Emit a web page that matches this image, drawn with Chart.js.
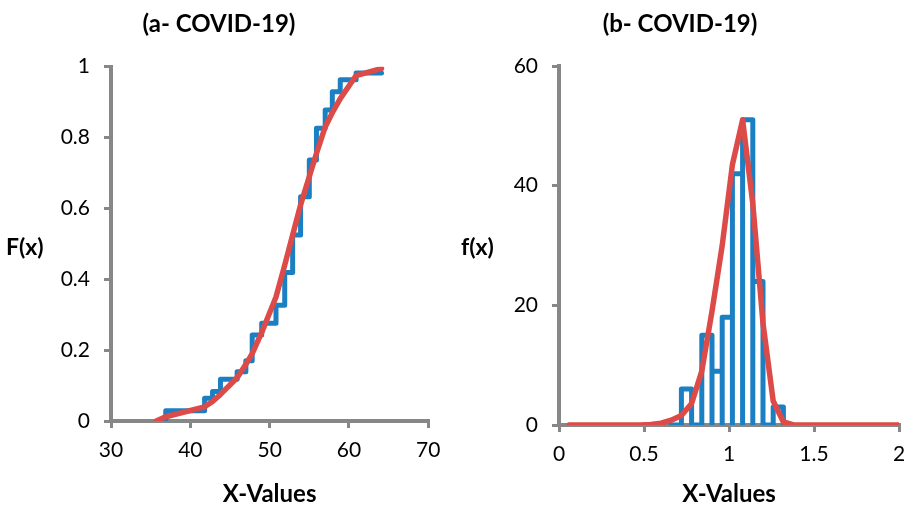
<!DOCTYPE html>
<html>
<head>
<meta charset="utf-8">
<title>COVID-19 distribution fit</title>
<script src="https://cdn.jsdelivr.net/npm/chart.js@4.4.1/dist/chart.umd.min.js"></script>
<style>
  html, body { margin: 0; padding: 0; background: #fff; }
  #wrap { position: relative; width: 907px; height: 506px; overflow: hidden; }
  canvas { position: absolute; top: 0; }
  #cdf { left: 0; }
  #pdf { left: 453px; }
</style>
</head>
<body>
<div id="wrap">
  <canvas id="cdf" width="448" height="506"></canvas>
  <canvas id="pdf" width="454" height="506"></canvas>
</div>
<script>
// ---------- (a) empirical CDF + fitted CDF ----------
const ecdfX = [36.9, 41.8, 42.8, 43.8, 45.9, 47.0, 47.8, 49.0, 50.8, 51.9, 52.9, 53.9, 55.0, 55.9, 57.0, 57.9, 58.9, 60.9, 64.1];
const ecdfY = [0.029, 0.064, 0.083, 0.118, 0.139, 0.170, 0.243, 0.276, 0.327, 0.419, 0.525, 0.633, 0.737, 0.826, 0.878, 0.929, 0.963, 0.982, 0.982];

const cdfFitX = [35.7, 36.9, 41.8, 42.8, 43.8, 45.9, 47.0, 47.8, 49.0, 50.8, 51.9, 52.9, 53.9, 55.0, 55.9, 57.0, 57.9, 58.9, 60.9, 64.1];
const cdfFitY = [0.0, 0.012, 0.040, 0.055, 0.075, 0.122, 0.160, 0.190, 0.250, 0.350, 0.440, 0.525, 0.610, 0.690, 0.755, 0.830, 0.870, 0.910, 0.975, 0.995];

// ---------- (b) histogram + fitted density ----------
const binEdges = [0.66, 0.72, 0.78, 0.84, 0.90, 0.96, 1.02, 1.08, 1.14, 1.20, 1.26, 1.32];
const binCounts = [0, 6, 0, 15, 9, 18, 42, 51, 24, 0, 3];

const pdfFitX = [0.06, 0.48, 0.54, 0.60, 0.66, 0.72, 0.78, 0.84, 0.90, 0.96, 1.02, 1.08, 1.14, 1.20, 1.26, 1.32, 1.38, 2.0];
const pdfFitY = [0, 0, 0.1, 0.3, 0.8, 1.6, 3.6, 9.0, 19.0, 30.0, 43.5, 51.0, 37.0, 17.0, 4.0, 0.5, 0, 0];

const BLUE = "#1b7fc4";
const RED = "#dc4b48";
const AXIS_GREY = "#878787";
const FONT = "Lato, 'Open Sans', sans-serif";

const toPoints = (xs, ys) => xs.map((x, i) => ({ x: x, y: ys[i] }));

// each bin as up - across - down, back to zero at every edge
function histogramPoints(edges, counts) {
  const pts = [];
  counts.forEach((h, i) => {
    pts.push({ x: edges[i], y: 0 }, { x: edges[i], y: h }, { x: edges[i + 1], y: h }, { x: edges[i + 1], y: 0 });
  });
  return pts;
}

// titles and axis names drawn straight on the canvas
const panelText = {
  id: "panelText",
  afterDraw(chart, args, opts) {
    const ctx = chart.ctx;
    const area = chart.chartArea;
    ctx.save();
    ctx.fillStyle = "#000";
    ctx.textBaseline = "alphabetic";

    ctx.font = "bold 24px " + FONT;
    ctx.textAlign = "center";
    ctx.fillText(opts.title, opts.titleX, 32);

    ctx.fillText("X-Values", (area.left + area.right) / 2, 502);

    ctx.font = "bold 23px " + FONT;
    ctx.textAlign = "left";
    ctx.fillText(opts.yLabel, opts.yLabelX, 255);
    ctx.restore();
  }
};

function linearAxis(min, max, step, pad, fitSize, isX) {
  return {
    type: "linear",
    min: min,
    max: max,
    ticks: {
      stepSize: step,
      color: "#000",
      padding: pad,
      font: { family: FONT, size: 21 },
      callback: (v) => String(Math.round(v * 100) / 100)
    },
    grid: {
      drawOnChartArea: false,
      drawTicks: true,
      tickLength: 7,
      color: AXIS_GREY,
      lineWidth: 3
    },
    border: { display: true, color: AXIS_GREY, width: 4 },
    afterFit: (scale) => {
      if (isX) {
        scale.height = fitSize;
        // end labels may hang over the layout padding
        scale.paddingLeft = 0;
        scale.paddingRight = 0;
      } else {
        scale.width = fitSize;
      }
    }
  };
}

function baseOptions(padding, xAxis, yAxis, text) {
  return {
    responsive: false,
    animation: false,
    layout: { padding: padding },
    elements: { point: { radius: 0 } },
    plugins: {
      legend: { display: false },
      tooltip: { enabled: false },
      panelText: text
    },
    scales: { x: xAxis, y: yAxis }
  };
}

new Chart(document.getElementById("cdf"), {
  type: "scatter",
  data: {
    datasets: [
      {
        label: "Fitted CDF",
        data: toPoints(cdfFitX, cdfFitY),
        showLine: true,
        borderColor: RED,
        borderWidth: 5.5,
        borderJoinStyle: "round",
        borderCapStyle: "round"
      },
      {
        label: "Empirical CDF",
        data: [{ x: ecdfX[0], y: 0 }].concat(toPoints(ecdfX, ecdfY)),
        showLine: true,
        stepped: "before",
        borderColor: BLUE,
        borderWidth: 5,
        borderJoinStyle: "round",
        borderCapStyle: "round"
      }
    ]
  },
  options: baseOptions(
    { top: 66.7, right: 19.7, left: 0, bottom: 0 },
    linearAxis(30, 70, 10, 10, 85, true),
    linearAxis(0, 1, 0.2, 14, 111, false),
    { title: "(a- COVID-19)", titleX: 219, yLabel: "F(x)", yLabelX: 6 }
  ),
  plugins: [panelText]
});

new Chart(document.getElementById("pdf"), {
  type: "scatter",
  data: {
    datasets: [
      {
        label: "Fitted PDF",
        data: toPoints(pdfFitX, pdfFitY),
        showLine: true,
        borderColor: RED,
        borderWidth: 5.5,
        borderJoinStyle: "round",
        borderCapStyle: "round"
      },
      {
        label: "Histogram",
        data: histogramPoints(binEdges, binCounts),
        showLine: true,
        borderColor: BLUE,
        borderWidth: 5,
        borderJoinStyle: "round",
        borderCapStyle: "round"
      }
    ]
  },
  options: baseOptions(
    { top: 66, right: 8, left: 0, bottom: 0 },
    linearAxis(0, 2, 0.5, 10, 81, true),
    linearAxis(0, 60, 20, 14, 106, false),
    { title: "(b- COVID-19)", titleX: 227, yLabel: "f(x)", yLabelX: 8 }
  ),
  plugins: [panelText]
});
</script>
</body>
</html>
